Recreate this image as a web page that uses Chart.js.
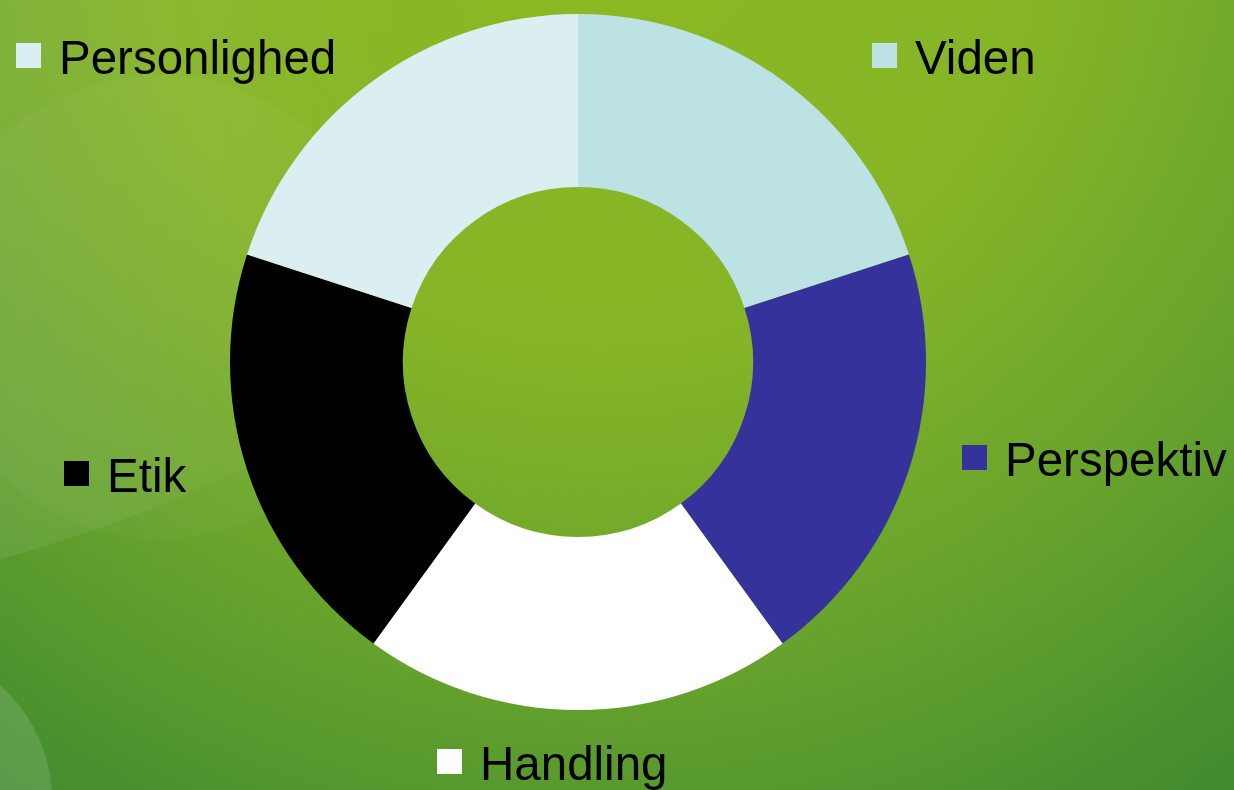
<!DOCTYPE html>
<html>
<head>
<meta charset="utf-8">
<title>Kompetencer</title>
<script src="https://cdn.jsdelivr.net/npm/chart.js@4/dist/chart.umd.min.js"></script>
<style>
  html, body { margin: 0; padding: 0; background: #6fa62c; }
  #donut { display: block; }
</style>
</head>
<body>
<canvas id="donut" width="1234" height="790"></canvas>
<script>
// segments, clockwise from 12 o'clock
const categories = ["Viden", "Perspektiv", "Handling", "Etik", "Personlighed"];
const values = [1, 1, 1, 1, 1];
const colors = ["#bde2e4", "#35339b", "#ffffff", "#000000", "#dbeef1"];

// where each label block (square + text) sits, top-left of the square
const labelSpots = [[872, 43], [962, 445], [437, 749], [64, 461], [16, 43]];

// green slide background with the faint round shapes on the left
const backdrop = {
  id: "backdrop",
  beforeDraw(chart) {
    const ctx = chart.ctx;
    const w = chart.width, h = chart.height;
    ctx.save();
    const g = ctx.createRadialGradient(600, -100, 0, 600, -100, 1100);
    g.addColorStop(0, "#8cba22");
    g.addColorStop(0.42, "#85b427");
    g.addColorStop(0.72, "#64a12d");
    g.addColorStop(1, "#3e892f");
    ctx.fillStyle = g;
    ctx.fillRect(0, 0, w, h);

    // wide light band, fading out to the right
    const band = ctx.createLinearGradient(0, 0, 420, 0);
    band.addColorStop(0, "rgba(255,255,255,0.08)");
    band.addColorStop(1, "rgba(255,255,255,0)");
    ctx.fillStyle = band;
    ctx.beginPath();
    ctx.arc(-395, -888, 1500, 0, Math.PI * 2);
    ctx.fill();

    // big faint circle
    ctx.fillStyle = "rgba(255,255,255,0.03)";
    ctx.beginPath();
    ctx.arc(160, 307, 232, 0, Math.PI * 2);
    ctx.fill();

    // small circle bottom left
    ctx.fillStyle = "rgba(255,255,255,0.13)";
    ctx.beginPath();
    ctx.arc(-100, 800, 152, 0, Math.PI * 2);
    ctx.fill();
    ctx.restore();
  }
};

const sideLabels = {
  id: "sideLabels",
  afterDraw(chart) {
    const ctx = chart.ctx;
    const labels = chart.data.labels;
    const fills = chart.data.datasets[0].backgroundColor;
    ctx.save();
    ctx.font = "47.5px 'Liberation Sans', Arial, sans-serif";
    ctx.textBaseline = "alphabetic";
    ctx.textAlign = "left";
    labels.forEach((lab, i) => {
      const [x, y] = labelSpots[i];
      ctx.fillStyle = fills[i];
      ctx.fillRect(x, y, 25, 25);
      ctx.fillStyle = "#000000";
      ctx.fillText(lab, x + 43, y + 30.5);
    });
    ctx.restore();
  }
};

new Chart(document.getElementById("donut"), {
  type: "doughnut",
  data: {
    labels: categories,
    datasets: [{
      data: values,
      backgroundColor: colors,
      borderWidth: 0,
      hoverOffset: 0
    }]
  },
  options: {
    responsive: false,
    animation: false,
    devicePixelRatio: 1,
    cutout: "50.3%",
    layout: { padding: { left: 230, right: 308, top: 14, bottom: 80 } },
    plugins: {
      legend: { display: false },
      tooltip: { enabled: false }
    }
  },
  plugins: [backdrop, sideLabels]
});
</script>
</body>
</html>
